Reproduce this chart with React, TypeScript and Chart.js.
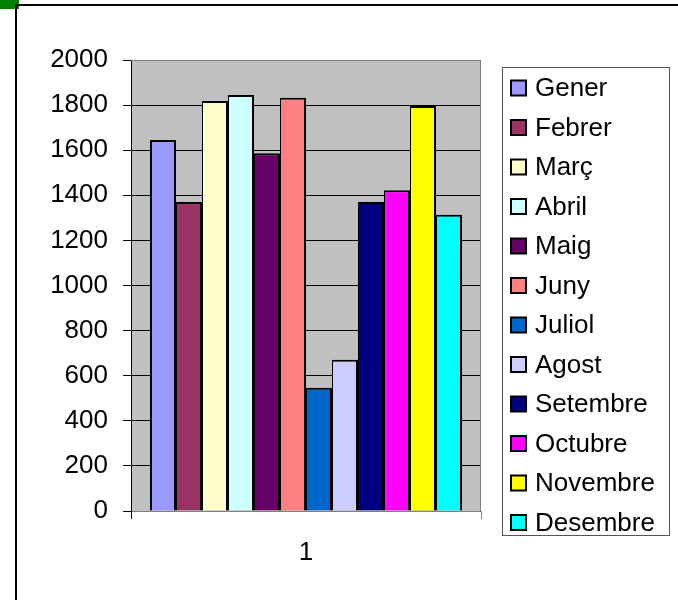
import React, { useEffect, useRef } from "react";
import { Chart, registerables } from "chart.js";

Chart.register(...registerables);

const categories = ["1"];
const months = ["Gener", "Febrer", "Març", "Abril", "Maig", "Juny", "Juliol", "Agost", "Setembre", "Octubre", "Novembre", "Desembre"];
const values = [1645, 1370, 1818, 1845, 1586, 1833, 547, 671, 1370, 1422, 1796, 1314];
const colors = ["#9999FF", "#993366", "#FFFFCC", "#CCFFFF", "#660066", "#FF8080", "#0066CC", "#CCCCFF", "#000080", "#FF00FF", "#FFFF00", "#00FFFF"];
const yTicks = [0, 200, 400, 600, 800, 1000, 1200, 1400, 1600, 1800, 2000];

const FONT = '"Liberation Sans", Arial, sans-serif';

const framePlugin = {
  id: "framePlugin",
  beforeDraw(chart: any) {
    const { ctx, chartArea } = chart;
    ctx.save();
    ctx.fillStyle = "#ffffff";
    ctx.fillRect(0, 0, chart.width, chart.height);
    ctx.fillStyle = "#C0C0C0";
    ctx.fillRect(chartArea.left, chartArea.top, chartArea.right - chartArea.left, chartArea.bottom - chartArea.top);
    ctx.fillStyle = "#008000";
    ctx.fillRect(0, 0, 19, 9);
    ctx.strokeStyle = "#000000";
    ctx.lineWidth = 2;
    ctx.beginPath();
    ctx.moveTo(16, 600);
    ctx.lineTo(16, 5);
    ctx.lineTo(678, 5);
    ctx.stroke();
    ctx.restore();
  },
  afterDatasetsDraw(chart: any) {
    const { ctx, chartArea } = chart;
    ctx.save();
    ctx.strokeStyle = "#808080";
    ctx.lineWidth = 1;
    ctx.beginPath();
    ctx.moveTo(chartArea.left, chartArea.top + 0.5);
    ctx.lineTo(chartArea.right - 0.5, chartArea.top + 0.5);
    ctx.lineTo(chartArea.right - 0.5, chartArea.bottom);
    ctx.stroke();
    ctx.restore();
  },
  afterDraw(chart: any) {
    const { ctx } = chart;
    ctx.save();
    ctx.strokeStyle = "#555555";
    ctx.lineWidth = 1;
    ctx.strokeRect(502.5, 67.5, 167, 468);
    ctx.font = `26px ${FONT}`;
    ctx.textBaseline = "middle";
    ctx.textAlign = "left";
    chart.data.datasets.forEach((ds: any, i: number) => {
      const cy = 88 + i * 39.5;
      ctx.fillStyle = ds.backgroundColor;
      ctx.fillRect(511, cy - 7.5, 15, 15);
      ctx.strokeStyle = "#000000";
      ctx.lineWidth = 2;
      ctx.strokeRect(511, cy - 7.5, 15, 15);
      ctx.fillStyle = "#000000";
      ctx.fillText(ds.label, 535, cy + 1);
    });
    ctx.restore();
  },
};

export default function App() {
  const ref = useRef<HTMLCanvasElement | null>(null);
  useEffect(() => {
    if (!ref.current) return;
    const chart = new Chart(ref.current, {
      type: "bar",
      data: {
        labels: categories,
        datasets: months.map((m, i) => ({
          label: m,
          data: [values[i]],
          backgroundColor: colors[i],
          borderColor: "#000000",
          borderWidth: { top: 2, right: 2, bottom: 0, left: i === 0 ? 2 : 1 },
          borderSkipped: false,
          inflateAmount: 0,
          categoryPercentage: 312 / 350,
          barPercentage: 1,
        })),
      },
      options: {
        responsive: false,
        animation: false,
        devicePixelRatio: 1,
        layout: { padding: { left: 0, right: 197, top: 60, bottom: 0 } },
        plugins: { legend: { display: false }, tooltip: { enabled: false }, title: { display: false } },
        scales: {
          x: {
            grid: {
              display: true,
              drawOnChartArea: false,
              drawTicks: true,
              tickLength: 8,
              color: (c: any) => (c.index === 0 ? "#000000" : "#808080"),
              lineWidth: 1,
            },
            border: { display: true, color: "#808080", width: 1 },
            ticks: { color: "#000000", font: { family: FONT, size: 26 }, padding: 18 },
            afterFit: (scale: any) => { scale.height = 89; },
          },
          y: {
            min: 0,
            max: 2000,
            afterBuildTicks: (scale: any) => { scale.ticks = yTicks.map((v) => ({ value: v })); },
            grid: { color: "#000000", lineWidth: 1, drawTicks: true, tickLength: 8, tickColor: "#000000" },
            border: { display: true, color: "#000000", width: 1 },
            ticks: {
              color: "#000000",
              font: { family: FONT, size: 26 },
              padding: 15,
              callback: (v: any) => String(v),
            },
            afterFit: (scale: any) => { scale.width = 131; },
          },
        },
      },
      plugins: [framePlugin],
    });
    return () => chart.destroy();
  }, []);
  return (
    <div style={{ position: "absolute", left: 0, top: 0, width: 678, height: 600 }}>
      <canvas ref={ref} width={678} height={600} style={{ width: 678, height: 600, display: "block" }} />
    </div>
  );
}
